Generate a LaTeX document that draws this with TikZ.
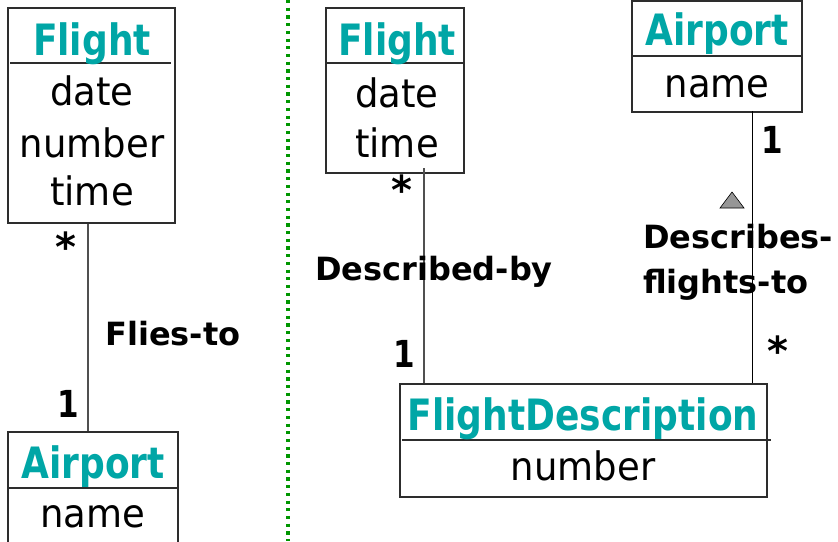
\documentclass[tikz,border=0pt]{standalone}
\usepackage{fontspec}
\usepackage{graphicx}
\setmainfont{DejaVu Sans}
\usetikzlibrary{calc}
\definecolor{classname}{RGB}{0,166,166}
\definecolor{boxline}{RGB}{45,45,45}
\definecolor{assocline}{RGB}{80,80,80}
\definecolor{sepgreen}{RGB}{0,150,0}
\definecolor{navfill}{RGB}{150,150,150}
% taller glyphs for class names and multiplicities
\newcommand{\tallname}[1]{\scalebox{1}[1.2]{#1}}
\newcommand{\tallattr}[1]{\scalebox{1}[1.06]{#1}}
\tikzset{
  classbox/.style={draw=boxline, line width=1.6pt, inner sep=0pt},
  divider/.style={draw=boxline, line width=1.4pt},
  cname/.style={anchor=base, inner sep=0pt, text=classname, font=\fontsize{36}{40}\selectfont\bfseries},
  attr/.style={anchor=base, inner sep=0pt, font=\fontsize{37}{40}\selectfont},
  assoc/.style={draw=assocline, line width=1.4pt},
  rolename/.style={anchor=base west, inner sep=0pt, font=\fontsize{32}{36}\selectfont\bfseries},
  mult/.style={inner sep=0pt, font=\fontsize{31}{34}\selectfont\bfseries},
  many/.style={inner sep=0pt, font=\fontsize{40}{44}\selectfont\bfseries},
  separator/.style={draw=sepgreen, line width=3.2pt, dash pattern=on 3.2pt off 4.5pt},
  readdir/.style={draw=black, line width=0.6pt, fill=navfill}
}
\begin{document}
\begin{tikzpicture}[x=1pt, y=-1pt]
\clip (0,0) rectangle (838,541);
\fill[white] (0,0) rectangle (838,541);

% separator between the two models
\coordinate (septop) at (288,0);
\coordinate (sepbot) at (288,541);
\draw[separator] (septop) -- (sepbot);

% ---------- left model ----------
\node[classbox, minimum width=167pt, minimum height=215pt] (flightL) at (91.5,115.5) {};
\draw[divider] (10,63) -- (171,63);
\node[cname] (flightLn) at (92,55) {\tallname{Flight}};
\node[attr] (flightLa) at (92,105) {\tallattr{date}};
\node[attr] (flightLb) at (92,157) {\tallattr{number}};
\node[attr] (flightLc) at (92,205) {\tallattr{time}};

\node[classbox, minimum width=170pt, minimum height=128pt] (airportL) at (93,496) {};
\draw[divider] (8,488) -- (178,488);
\node[cname] (airportLn) at (93,478) {\tallname{Airport}};
\node[attr] (airportLa) at (93,527) {\tallattr{name}};

\draw[assoc] (flightL.south) ++(-3.5,0) coordinate (fliesA) -- (fliesA |- airportL.north);
\node[many] (multLs) at (66,247) {*};
\node[mult, anchor=base] (multL1) at (68,417) {\tallname{1}};
\node[rolename] (flies) at (105,345) {Flies-to};

% ---------- right model ----------
\node[classbox, minimum width=138pt, minimum height=165pt] (flightM) at (395,90.5) {};
\draw[divider] (326,63) -- (464,63);
\node[cname] (flightMn) at (397,55) {\tallname{Flight}};
\node[attr] (flightMa) at (397,107) {\tallattr{date}};
\node[attr] (flightMb) at (397,157) {\tallattr{time}};

\node[classbox, minimum width=170pt, minimum height=111pt] (airportR) at (717,56.5) {};
\draw[divider] (632,56) -- (802,56);
\node[cname] (airportRn) at (717,45) {\tallname{Airport}};
\node[attr] (airportRa) at (717,97) {\tallattr{name}};

\node[classbox, minimum width=367pt, minimum height=113pt] (fd) at (583.5,440.5) {};
\draw[divider] (402,440) -- (771,440);
\node[cname] (fdn) at (583,430) {\tallname{FlightDescription}};
\node[attr] (fda) at (583,480) {\tallattr{number}};

% Described-by
\coordinate (dbTop) at (424,168);
\draw[assoc] (dbTop) -- (dbTop |- fd.north);
\node[many] (multMs) at (402,190) {*};
\node[mult, anchor=base] (multM1) at (404,367) {\tallname{1}};
\node[rolename] (descby) at (315,280) {Described-by};

% Describes-flights-to
\coordinate (dfTop) at (752,111);
\draw[draw=black, line width=1pt] (dfTop) -- (dfTop |- fd.north);
\node[mult, anchor=base] (multR1) at (772,153) {\tallname{1}};
\node[many] (multRs) at (778,351) {*};
\draw[readdir] (720,208) -- (744,208) -- (732,192) -- cycle;
\node[rolename] (descfl1) at (643,248) {Describes-};
\node[rolename] (descfl2) at (643,293) {flights-to};
\end{tikzpicture}
\end{document}
